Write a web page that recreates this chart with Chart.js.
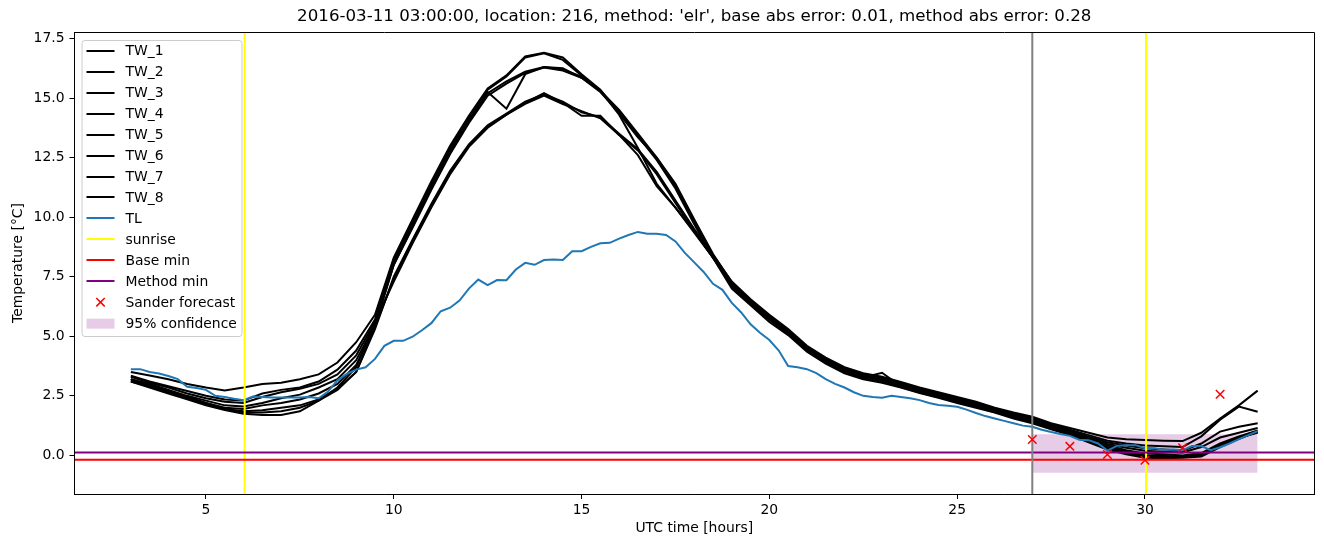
<!DOCTYPE html>
<html>
<head>
<meta charset="utf-8">
<script src="https://cdn.jsdelivr.net/npm/chart.js@4.4.1/dist/chart.umd.min.js"></script>
<style>
html,body{margin:0;padding:0;background:#fff;}
canvas{display:block;}
</style>
</head>
<body>
<canvas id="c" width="1324" height="547"></canvas>
<script>
// ---------------- data ----------------
const titleText = "2016-03-11 03:00:00, location: 216, method: 'elr', base abs error: 0.01, method abs error: 0.28";

const hoursTW = [3,3.5,4,4.5,5,5.5,6,6.5,7,7.5,8,8.5,9,9.5,10,10.5,11,11.5,12,12.5,13,13.5,14,14.5,15,15.5,16,16.5,17,17.5,18,18.5,19,19.5,20,20.5,21,21.5,22,22.5,23,23.5,24,24.5,25,25.5,26,26.5,27,27.5,28,28.5,29,29.5,30,30.5,31,31.5,32,32.5,33];

const TW_1 = [3.5,3.35,3.2,3.0,2.85,2.72,2.85,3.0,3.05,3.2,3.4,3.9,4.75,5.9,
  8.3,9.9,11.5,13.0,14.25,15.4,15.95,16.75,16.9,16.7,16.0,15.35,14.35,13.35,12.5,11.3,9.8,8.4,
  7.3,6.55,5.9,5.3,4.6,4.1,3.7,3.45,3.3,3.08,2.85,2.65,2.45,2.25,2.0,1.8,1.62,1.35,1.15,0.95,0.75,0.68,0.65,0.62,
  0.6,0.95,1.55,2.1,2.72];
const TW_2 = [3.35,3.1,2.9,2.7,2.5,2.35,2.3,2.6,2.75,2.85,3.1,3.6,4.4,5.7,
  8.2,9.8,11.4,12.9,14.2,15.35,15.9,16.7,16.88,16.6,15.95,15.3,14.3,12.9,11.4,10.4,9.4,8.3,
  7.12,6.37,5.72,5.12,4.42,3.92,3.52,3.27,3.47,2.9,2.67,2.47,2.27,2.07,1.84,1.62,1.42,1.16,0.92,0.62,0.35,0.15,0.0,-0.02,
  -0.05,0.0,0.4,0.7,1.0];
const TW_3 = [3.3,3.05,2.85,2.6,2.4,2.25,2.2,2.45,2.65,2.8,3.0,3.4,4.2,5.6,
  8.1,9.7,11.3,12.8,14.1,15.2,15.7,16.1,16.3,16.2,15.9,15.3,14.5,13.5,12.5,11.4,9.9,8.45,
  7.26,6.51,5.86,5.26,4.56,4.06,3.66,3.41,3.26,3.04,2.81,2.61,2.41,2.21,1.96,1.76,1.58,1.31,1.08,0.85,0.62,0.5,0.42,0.38,
  0.35,0.8,1.5,2.05,1.83];
const TW_4 = [3.2,3.0,2.75,2.5,2.3,2.1,2.05,2.2,2.4,2.55,2.85,3.2,4.0,5.5,
  8.0,9.6,11.2,12.7,14.0,15.25,14.55,16.0,16.3,16.25,15.85,15.3,14.45,13.4,12.45,11.3,9.85,8.4,
  7.19,6.44,5.79,5.19,4.49,3.99,3.59,3.34,3.19,2.97,2.74,2.54,2.34,2.14,1.9,1.69,1.5,1.23,0.98,0.72,0.48,0.32,0.2,0.15,
  0.12,0.35,0.75,0.95,1.15];
const TW_5 = [3.2,2.95,2.7,2.45,2.2,2.0,1.95,2.1,2.2,2.35,2.6,3.0,3.8,5.4,
  8.0,9.55,11.15,12.65,13.95,15.1,15.6,16.05,16.28,16.15,15.85,15.25,14.4,13.4,12.4,11.2,9.7,8.3,
  7.22,6.47,5.82,5.22,4.52,4.02,3.62,3.37,3.22,3.0,2.77,2.57,2.37,2.17,1.93,1.72,1.54,1.27,1.03,0.78,0.55,0.42,0.3,0.25,
  0.2,0.5,1.0,1.2,1.35];
const TW_6 = [3.15,2.95,2.7,2.45,2.2,1.95,1.85,1.9,2.0,2.1,2.35,2.8,3.5,5.3,
  7.5,9.05,10.55,11.95,13.05,13.85,14.35,14.85,15.15,14.85,14.4,14.2,13.5,12.85,11.9,10.7,9.5,8.4,
  7.09,6.34,5.69,5.09,4.39,3.89,3.49,3.24,3.09,2.87,2.64,2.44,2.24,2.04,1.81,1.59,1.39,1.13,0.88,0.58,0.3,0.1,-0.05,-0.08,
  -0.08,0.05,0.45,0.75,0.95];
const TW_7 = [3.1,2.9,2.65,2.4,2.15,1.95,1.8,1.8,1.85,2.0,2.3,2.75,3.5,5.4,
  7.4,9.0,10.5,11.9,13.0,13.8,14.3,14.8,15.2,14.8,14.25,14.25,13.45,12.8,11.8,10.6,9.4,8.3,
  7.15,6.4,5.75,5.15,4.45,3.95,3.55,3.3,3.15,2.93,2.7,2.5,2.3,2.1,1.87,1.65,1.46,1.19,0.95,0.67,0.42,0.22,0.08,0.05,
  0.0,0.1,0.5,0.8,1.05];
const TW_8 = [3.1,2.85,2.6,2.35,2.1,1.9,1.75,1.7,1.7,1.85,2.3,2.85,3.7,5.6,
  7.3,8.9,10.4,11.8,12.95,13.75,14.3,14.75,15.1,14.75,14.45,14.15,13.45,12.6,11.3,10.4,9.35,8.3,
  7.0,6.3,5.6,5.05,4.35,3.85,3.45,3.2,3.05,2.85,2.62,2.42,2.2,2.0,1.8,1.55,1.35,1.1,0.85,0.55,0.25,0.05,-0.1,-0.12,
  -0.1,-0.05,0.35,0.7,1.0];

const hoursTL = [3,3.25,3.5,3.75,4,4.25,4.5,4.75,5,5.25,5.5,5.75,6,6.25,6.5,6.75,7,7.25,7.5,7.75,8,8.25,8.5,8.75,9,9.25,9.5,9.75,10,10.25,10.5,10.75,11,11.25,11.5,11.75,12,12.25,12.5,12.75,13,13.25,13.5,13.75,14,14.25,14.5,14.75,15,15.25,15.5,15.75,16,16.25,16.5,16.75,17,17.25,17.5,17.75,18,18.25,18.5,18.75,19,19.25,19.5,19.75,20,20.25,20.5,20.75,21,21.25,21.5,21.75,22,22.25,22.5,22.75,23,23.25,23.5,23.75,24,24.25,24.5,24.75,25,25.25,25.5,25.75,26,26.25,26.5,26.75,27,27.25,27.5,27.75,28,28.25,28.5,28.75,29,29.25,29.5,29.75,30,30.25,30.5,30.75,31,31.25,31.5,31.75,32,32.25,32.5,32.75,33];
const TL = [
  3.62,3.62,3.5,3.44,
  3.33,3.2,2.88,2.83,
  2.75,2.5,2.45,2.38,
  2.32,2.47,2.45,2.43,
  2.43,2.43,2.43,2.45,
  2.4,2.68,3.15,3.42,
  3.6,3.7,4.05,4.6,
  4.81,4.81,4.98,5.25,
  5.55,6.05,6.2,6.5,
  7.0,7.38,7.15,7.36,
  7.35,7.8,8.08,8.0,
  8.2,8.22,8.2,8.57,
  8.57,8.75,8.9,8.92,
  9.1,9.25,9.38,9.3,
  9.3,9.25,8.98,8.5,
  8.1,7.7,7.2,6.95,
  6.4,6.0,5.5,5.15,
  4.84,4.4,3.75,3.7,
  3.62,3.45,3.2,3.0,
  2.85,2.65,2.5,2.45,
  2.42,2.5,2.45,2.4,
  2.32,2.2,2.12,2.08,
  2.04,1.92,1.78,1.65,
  1.55,1.45,1.35,1.25,
  1.2,1.08,0.98,0.9,
  0.82,0.66,0.64,0.5,
  0.2,0.4,0.43,0.43,
  0.3,0.3,0.24,0.25,
  0.22,0.39,0.39,0.22,
  0.34,0.5,0.68,0.85,
  1.02];

const sunriseHours = [6.03, 30.03];
const forecastStartHour = 27;
const baseMin = -0.18;
const methodMin = 0.12;
const sanderHours = [27, 28, 29, 30, 31, 32];
const sanderValues = [0.67, 0.38, 0.04, -0.2, 0.32, 2.57];
const confHours = [27, 33];
const confUpper = 0.89;
const confLower = -0.73;

const xLimits = [1.5, 34.5];
const yLimits = [-1.62, 17.77];
const xTicks = [5, 10, 15, 20, 25, 30];
const yTicks = [0, 2.5, 5, 7.5, 10, 12.5, 15, 17.5];

// ---------------- build ----------------
const FONT = 'DejaVu Sans';
const pts = (xs, ys) => xs.map((x, i) => ({x: x, y: ys[i]}));
const twSeries = [TW_1, TW_2, TW_3, TW_4, TW_5, TW_6, TW_7, TW_8];

const datasets = [];
twSeries.forEach((s, i) => {
  datasets.push({label: 'TW_' + (i + 1), data: pts(hoursTW, s), borderColor: '#000000', borderWidth: 2,
    pointRadius: 0, tension: 0, fill: false, order: 60 - i, legendKind: 'line'});
});
datasets.push({label: 'TL', data: pts(hoursTL, TL), borderColor: '#1f77b4', borderWidth: 2,
  pointRadius: 0, tension: 0, fill: false, order: 40, legendKind: 'line'});
const sunriseData = [];
sunriseHours.forEach((h, i) => {
  if (i > 0) sunriseData.push({x: (sunriseHours[i - 1] + h) / 2, y: null});
  sunriseData.push({x: h, y: yLimits[0]}, {x: h, y: yLimits[1]});
});
datasets.push({label: 'sunrise', data: sunriseData, borderColor: '#ffff00', borderWidth: 2,
  pointRadius: 0, spanGaps: false, fill: false, order: 30, legendKind: 'line'});
datasets.push({label: 'Base min', data: [{x: xLimits[0], y: baseMin}, {x: xLimits[1], y: baseMin}],
  borderColor: '#ff0000', borderWidth: 2, pointRadius: 0, fill: false, order: 29, legendKind: 'line'});
datasets.push({label: 'Method min', data: [{x: xLimits[0], y: methodMin}, {x: xLimits[1], y: methodMin}],
  borderColor: '#800080', borderWidth: 2, pointRadius: 0, fill: false, order: 28, legendKind: 'line'});
datasets.push({label: 'Sander forecast', data: pts(sanderHours, sanderValues), showLine: false,
  pointStyle: 'crossRot', pointRadius: 6, pointBorderWidth: 1.5, borderColor: '#ff0000', backgroundColor: '#ff0000',
  order: 10, legendKind: 'marker'});
datasets.push({label: '95% confidence', data: confHours.map(h => ({x: h, y: confUpper})),
  borderWidth: 0, borderColor: 'rgba(0,0,0,0)', pointRadius: 0, fill: {value: confLower},
  backgroundColor: 'rgba(128,0,128,0.2)', order: 100, legendKind: 'patch'});
datasets.push({label: '', data: [{x: forecastStartHour, y: yLimits[0]}, {x: forecastStartHour, y: yLimits[1]}],
  borderColor: '#808080', borderWidth: 2, pointRadius: 0, fill: false, order: 27});

function alignPx(p, w) { return Math.round(p - w / 2) + w / 2; }

const framePlugin = {
  id: 'mplFrame',
  afterDraw(chart) {
    const ctx = chart.ctx, a = chart.chartArea;
    ctx.save();
    ctx.strokeStyle = '#000'; ctx.lineWidth = 1;
    const L = alignPx(a.left, 1), R = alignPx(a.right, 1), T = alignPx(a.top, 1), B = alignPx(a.bottom, 1);
    ctx.beginPath();
    ctx.moveTo(L, B); ctx.lineTo(L, T); ctx.lineTo(R, T); ctx.lineTo(R, B); ctx.lineTo(L, B);
    ctx.stroke();

    // legend (matplotlib style, upper left inside axes)
    const items = chart.data.datasets.filter(d => d.legendKind);
    const x0 = a.left + 7.5, y0 = a.top + 8.5, w = 160, h = 296;
    ctx.beginPath();
    if (ctx.roundRect) ctx.roundRect(x0, y0, w, h, 3); else ctx.rect(x0, y0, w, h);
    ctx.fillStyle = 'rgba(255,255,255,0.8)'; ctx.fill();
    ctx.strokeStyle = '#cccccc'; ctx.lineWidth = 1; ctx.stroke();
    ctx.font = '13.9px "' + FONT + '"';
    ctx.textBaseline = 'middle'; ctx.textAlign = 'left';
    items.forEach((d, i) => {
      const cy = y0 + 11.3 + i * 20.95;
      const hx0 = x0 + 4.5, hx1 = x0 + 32.5, hc = (hx0 + hx1) / 2;
      if (d.legendKind === 'line') {
        ctx.strokeStyle = d.borderColor; ctx.lineWidth = 2;
        ctx.beginPath(); ctx.moveTo(hx0, Math.round(cy - 1)); ctx.lineTo(hx1, Math.round(cy - 1)); ctx.stroke();
      } else if (d.legendKind === 'marker') {
        ctx.strokeStyle = d.borderColor; ctx.lineWidth = 1.5;
        const r = 4.2;
        ctx.beginPath();
        ctx.moveTo(hc - r, cy - 1 - r); ctx.lineTo(hc + r, cy - 1 + r);
        ctx.moveTo(hc - r, cy - 1 + r); ctx.lineTo(hc + r, cy - 1 - r);
        ctx.stroke();
      } else if (d.legendKind === 'patch') {
        ctx.fillStyle = d.backgroundColor;
        ctx.fillRect(hx0, cy - 5.5, hx1 - hx0, 10);
      }
      ctx.fillStyle = '#000';
      ctx.fillText(d.label, x0 + 43.5, cy);
    });
    ctx.restore();
  }
};

const tickFont = {family: FONT, size: 13.9};

new Chart(document.getElementById('c'), {
  type: 'line',
  data: {datasets: datasets},
  plugins: [framePlugin],
  options: {
    responsive: false,
    animation: false,
    devicePixelRatio: 1,
    parsing: true,
    layout: {padding: {left: 0, right: 10, top: 0, bottom: 0}},
    plugins: {
      legend: {display: false},
      tooltip: {enabled: false},
      title: {display: true, text: titleText, fullSize: false, color: '#000',
        font: {family: FONT, size: 16.67, weight: 'normal'}, padding: {top: 7, bottom: 5}}
    },
    scales: {
      x: {
        type: 'linear', min: xLimits[0], max: xLimits[1],
        afterFit: s => { s.height = 53; },
        afterBuildTicks: s => { s.ticks = xTicks.map(v => ({value: v})); },
        ticks: {color: '#000', font: tickFont, padding: 3, maxRotation: 0, autoSkip: false,
          callback: v => String(v)},
        grid: {display: true, drawOnChartArea: false, drawTicks: true, tickLength: 5, tickColor: '#000', tickWidth: 1},
        border: {display: true, color: '#000', width: 1},
        title: {display: true, text: 'UTC time [hours]', color: '#000', font: tickFont, padding: {top: 0, bottom: 10}}
      },
      y: {
        type: 'linear', min: yLimits[0], max: yLimits[1],
        afterFit: s => { s.width = 74.5; },
        afterBuildTicks: s => { s.ticks = yTicks.map(v => ({value: v})); },
        ticks: {color: '#000', font: tickFont, padding: 5, autoSkip: false,
          callback: v => Number(v).toFixed(1)},
        grid: {display: true, drawOnChartArea: false, drawTicks: true, tickLength: 5, tickColor: '#000', tickWidth: 1},
        border: {display: true, color: '#000', width: 1},
        title: {display: true, text: 'Temperature [°C]', color: '#000', font: tickFont, padding: {top: 10, bottom: 0}}
      }
    }
  }
});
</script>
</body>
</html>
